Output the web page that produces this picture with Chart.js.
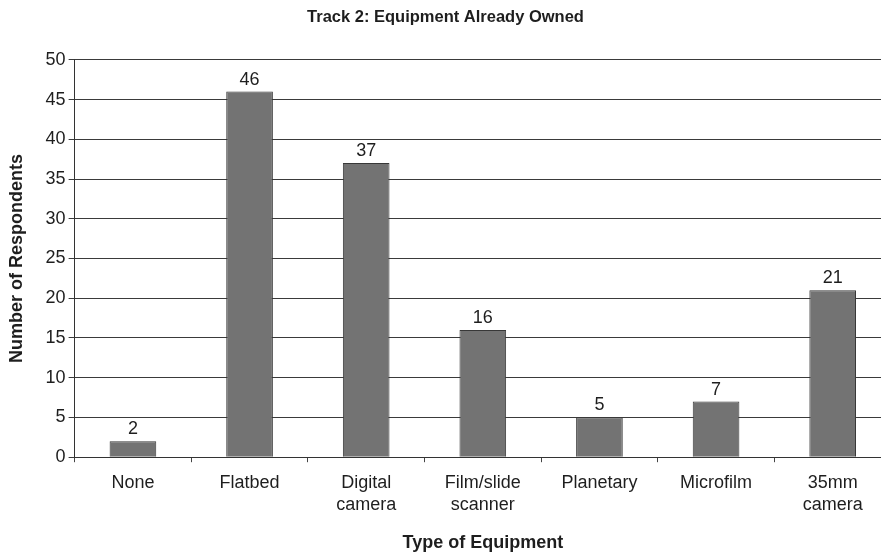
<!DOCTYPE html>
<html>
<head>
<meta charset="utf-8">
<script src="https://cdn.jsdelivr.net/npm/chart.js@4.4.1/dist/chart.umd.min.js"></script>
<style>
  html, body { margin: 0; padding: 0; background: #fff; overflow: hidden; }
  #wrap { position: relative; width: 893px; height: 556px; }
</style>
</head>
<body>
<div id="wrap"><canvas id="chart" width="893" height="556"></canvas></div>
<script>
// ====== DATA ======
const categories = ["None", "Flatbed", ["Digital", "camera"], ["Film/slide", "scanner"], "Planetary", "Microfilm", ["35mm", "camera"]];
const respondents = [2, 46, 37, 16, 5, 7, 21];
const yMin = 0;
const yMax = 50;
const yStep = 5;

const FONT = "'Liberation Sans', Arial, sans-serif";
const INK = "#1e1e1e";

// etiquetas encima de cada barra
const valueLabels = {
  id: "valueLabels",
  afterDatasetsDraw(chart) {
    const ctx = chart.ctx;
    const meta = chart.getDatasetMeta(0);
    ctx.save();
    ctx.font = `18px ${FONT}`;
    ctx.fillStyle = INK;
    ctx.textAlign = "center";
    ctx.textBaseline = "bottom";
    meta.data.forEach((bar, i) => {
      ctx.fillText(String(respondents[i]), bar.x, bar.y - 3);
    });
    ctx.restore();
  },
};

new Chart(document.getElementById("chart"), {
  type: "bar",
  data: {
    labels: categories,
    datasets: [
      {
        label: "Respondents",
        data: respondents,
        backgroundColor: "#737373",
        borderColor: "#383838",
        borderWidth: 1,
        categoryPercentage: 1,
        barPercentage: 0.4,
      },
    ],
  },
  options: {
    responsive: false,
    animation: false,
    devicePixelRatio: 1,
    layout: { padding: { left: 0, right: 2, top: 0, bottom: 2 } },
    plugins: {
      legend: { display: false },
      tooltip: { enabled: false },
      title: {
        display: true,
        text: "Track 2: Equipment Already Owned",
        color: INK,
        font: { family: FONT, size: 16.5, weight: "bold" },
        padding: { top: 8, bottom: 32 },
      },
    },
    scales: {
      x: {
        offset: true,
        grid: {
          offset: true,
          drawOnChartArea: false,
          drawTicks: true,
          tickLength: 5,
          color: "#444",
        },
        border: { color: "#333", width: 1 },
        ticks: {
          color: INK,
          font: { family: FONT, size: 18 },
          padding: 10,
          maxRotation: 0,
          autoSkip: false,
        },
        title: {
          display: true,
          text: "Type of Equipment",
          color: INK,
          font: { family: FONT, size: 18, weight: "bold" },
          padding: { top: 7, bottom: 0 },
        },
      },
      y: {
        min: yMin,
        max: yMax,
        grid: {
          color: "#3a3a3a",
          lineWidth: 1,
          tickLength: 6,
        },
        border: { color: "#333", width: 1 },
        ticks: {
          stepSize: yStep,
          color: INK,
          font: { family: FONT, size: 18 },
          padding: 3,
        },
        title: {
          display: true,
          text: "Number of Respondents",
          color: INK,
          font: { family: FONT, size: 18, weight: "bold" },
          padding: { top: 6, bottom: 15 },
        },
      },
    },
  },
  plugins: [valueLabels],
});
</script>
</body>
</html>
